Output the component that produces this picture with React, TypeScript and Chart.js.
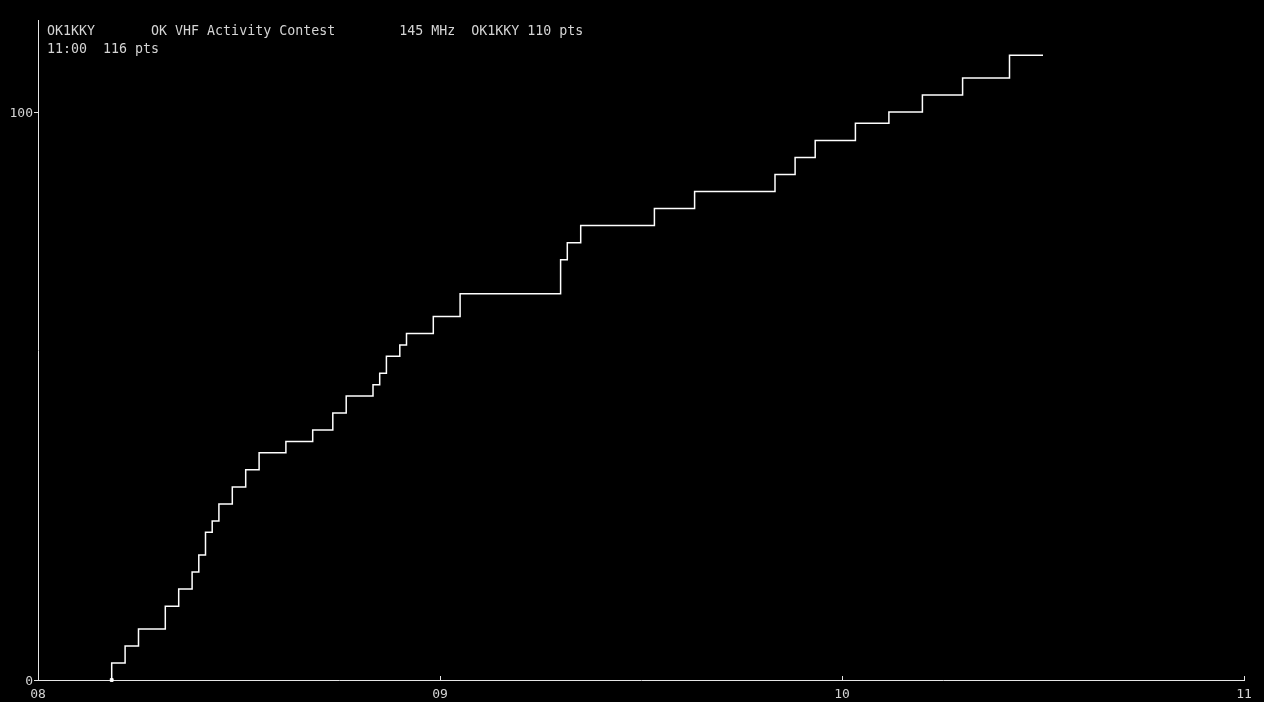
import { useEffect, useRef } from 'react';
import { Chart, registerables } from 'chart.js';

Chart.register(...registerables);

// minutes after 08:00 at which the score changed, and the score after that QSO
const qsoMinutes = [11, 11, 13, 15, 19, 21, 23, 24, 25, 26, 27, 29, 31, 33, 37, 41, 44, 46, 50, 51, 52, 54, 55, 59, 63, 78, 79, 81, 92, 98, 110, 113, 116, 122, 127, 132, 138, 145, 150];
const scores = [0, 3, 6, 9, 13, 16, 19, 22, 26, 28, 31, 34, 37, 40, 42, 44, 47, 50, 52, 54, 57, 59, 61, 64, 68, 74, 77, 80, 83, 86, 89, 92, 95, 98, 100, 103, 106, 110, 110];
const hourLabels = ['08', '09', '10', '11'];
const yTicks = [0, 100];
const headerLines = [
  'OK1KKY       OK VHF Activity Contest        145 MHz  OK1KKY 110 pts',
  '11:00  116 pts',
];

const FONT = '"DejaVu Sans Mono", monospace';
const TEXT = '#d4d4d4';
const AXIS = '#e6e6e6';

const headerPlugin = {
  id: 'header',
  afterDraw(chart: Chart) {
    const { ctx } = chart;
    ctx.save();
    ctx.font = `13.3px ${FONT}`;
    ctx.fillStyle = TEXT;
    ctx.textBaseline = 'alphabetic';
    ctx.textAlign = 'left';
    headerLines.forEach((line, i) => ctx.fillText(line, 47, 35 + i * 18));
    // small inward ticks on the time axis
    const xs = chart.scales.x;
    ctx.strokeStyle = AXIS;
    ctx.lineWidth = 1;
    xs.ticks.forEach((t) => {
      const px = Math.round(xs.getPixelForValue(t.value)) + 0.5;
      ctx.beginPath();
      ctx.moveTo(px, xs.top);
      ctx.lineTo(px, xs.top - 4);
      ctx.stroke();
    });
    ctx.restore();
  },
};

export default function App() {
  const canvasRef = useRef<HTMLCanvasElement>(null);

  useEffect(() => {
    document.body.style.margin = '0';
    document.body.style.background = '#000';
    if (!canvasRef.current) return;
    const points = qsoMinutes.map((m, i) => ({ x: m, y: scores[i] }));

    const chart = new Chart(canvasRef.current, {
      type: 'line',
      data: {
        datasets: [
          {
            data: points,
            borderColor: '#ffffff',
            borderWidth: 1.5,
            pointRadius: 0,
            stepped: 'before',
            fill: false,
            clip: false,
          },
          {
            type: 'scatter',
            data: [{ x: qsoMinutes[0], y: 0 }],
            pointStyle: 'rect',
            pointRadius: 2,
            backgroundColor: '#ffffff',
            borderColor: '#ffffff',
            clip: false,
          },
        ],
      },
      options: {
        responsive: true,
        maintainAspectRatio: false,
        animation: false,
        layout: { padding: { top: 20, right: 20, left: 0, bottom: 0 } },
        plugins: { legend: { display: false }, tooltip: { enabled: false }, title: { display: false } },
        scales: {
          x: {
            type: 'linear',
            min: 0,
            max: 180,
            afterFit: (s: any) => { s.height = 22; },
            afterBuildTicks: (s: any) => { s.ticks = hourLabels.map((_, i) => ({ value: i * 60 })); },
            ticks: {
              color: TEXT,
              font: { family: FONT, size: 13 },
              padding: 7,
              maxRotation: 0,
              callback: (v: any) => hourLabels[Math.round(Number(v) / 60)],
            },
            grid: { drawOnChartArea: false, drawTicks: false },
            border: { color: AXIS, width: 1 },
          },
          y: {
            min: 0,
            max: 116.2,
            afterFit: (s: any) => { s.width = 38; },
            afterBuildTicks: (s: any) => { s.ticks = yTicks.map((v) => ({ value: v })); },
            ticks: { color: TEXT, font: { family: FONT, size: 13 }, padding: 1, labelOffset: 2 },
            grid: { drawOnChartArea: false, drawTicks: true, tickLength: 4, color: AXIS },
            border: { color: AXIS, width: 1 },
          },
        },
      },
      plugins: [headerPlugin],
    });

    return () => { chart.destroy(); };
  }, []);

  return (
    <div style={{ position: 'absolute', left: 0, top: 0, width: 1264, height: 702, background: '#000' }}>
      <canvas ref={canvasRef} />
    </div>
  );
}
